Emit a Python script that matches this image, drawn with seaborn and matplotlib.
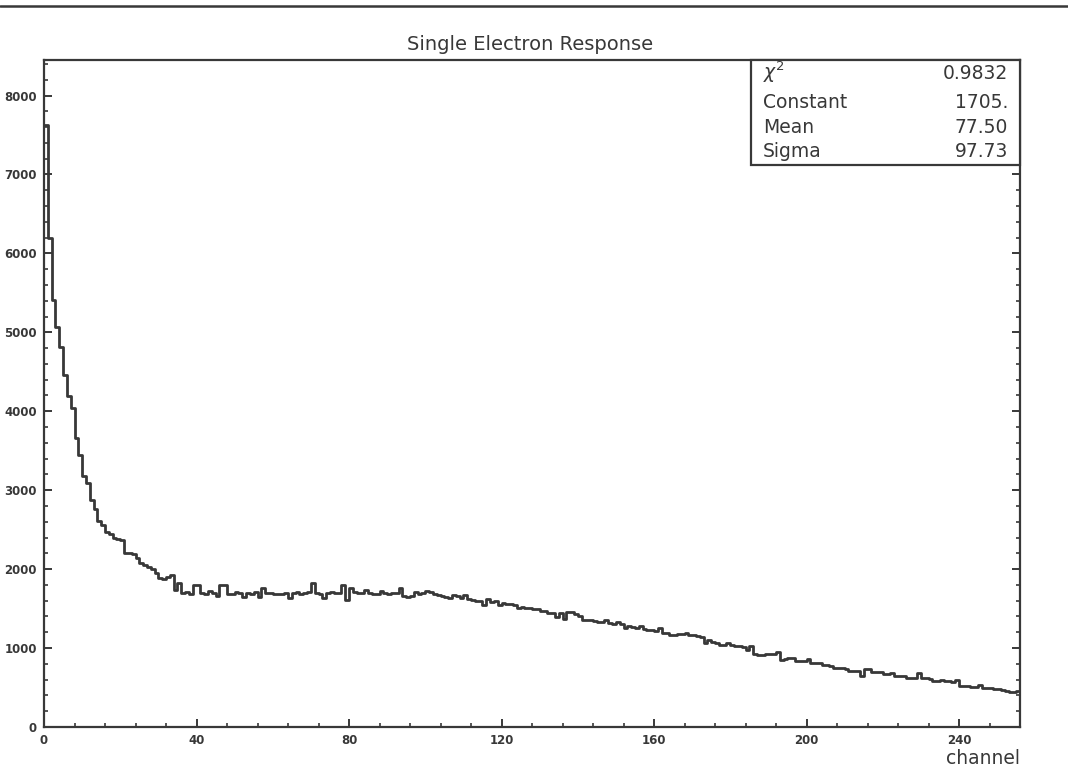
import numpy as np
import pandas as pd
import matplotlib
matplotlib.use("Agg")
import matplotlib.pyplot as plt
from matplotlib.lines import Line2D
from matplotlib.patches import Rectangle
from matplotlib.ticker import MultipleLocator
import seaborn as sns

# ---------------- data ----------------
title = "Single Electron Response"
xlabel = "channel"
stat_names = [r"$\chi^{2}$", "Constant", "Mean", "Sigma"]
stat_values = ["0.9832", "1705.", "77.50", "97.73"]

counts = [
    7630, 6200, 5410, 5070, 4820, 4460, 4190, 4040, 3660, 3440,
    3180, 3090, 2870, 2760, 2610, 2560, 2470, 2440, 2400, 2380,
    2370, 2200, 2210, 2190, 2140, 2080, 2050, 2030, 2000, 1950,
    1890, 1880, 1900, 1930, 1740, 1830, 1700, 1710, 1690, 1800,
    1800, 1700, 1690, 1720, 1700, 1660, 1800, 1800, 1690, 1680,
    1710, 1700, 1650, 1700, 1690, 1710, 1650, 1760, 1700, 1700,
    1690, 1680, 1690, 1700, 1640, 1700, 1710, 1690, 1700, 1710,
    1830, 1700, 1690, 1640, 1700, 1710, 1700, 1700, 1800, 1610,
    1760, 1710, 1700, 1700, 1740, 1700, 1690, 1680, 1720, 1700,
    1690, 1700, 1700, 1760, 1660, 1650, 1660, 1710, 1690, 1700,
    1720, 1710, 1680, 1670, 1660, 1650, 1630, 1670, 1660, 1640,
    1670, 1620, 1610, 1600, 1600, 1550, 1620, 1580, 1590, 1550,
    1570, 1560, 1560, 1550, 1510, 1520, 1510, 1510, 1500, 1500,
    1470, 1470, 1450, 1450, 1395, 1450, 1370, 1460, 1460, 1430,
    1400, 1355, 1360, 1360, 1340, 1330, 1330, 1360, 1320, 1310,
    1330, 1300, 1255, 1280, 1270, 1260, 1280, 1240, 1230, 1225,
    1220, 1255, 1190, 1190, 1170, 1170, 1180, 1180, 1190, 1160,
    1160, 1150, 1140, 1065, 1100, 1080, 1070, 1040, 1040, 1070,
    1040, 1030, 1020, 1010, 980, 1030, 930, 910, 910, 930,
    930, 920, 950, 850, 860, 870, 880, 840, 830, 830,
    860, 810, 810, 810, 780, 780, 770, 745, 745, 745,
    740, 710, 710, 705, 645, 730, 730, 700, 700, 700,
    675, 675, 690, 640, 640, 650, 615, 620, 615, 690,
    615, 615, 610, 580, 580, 600, 580, 580, 575, 590,
    520, 520, 515, 510, 510, 530, 495, 490, 490, 480,
    480, 470, 450, 445, 440, 450,
]
n_channels = len(counts)
channels = np.arange(n_channels) + 0.5

x_ticks = [0, 40, 80, 120, 160, 200, 240]
y_ticks = [0, 1000, 2000, 3000, 4000, 5000, 6000, 7000, 8000]

df = pd.DataFrame({"channel": channels, "counts": counts})

# ---------------- style ----------------
sns.set_style("ticks")
plt.rcParams["font.family"] = ["DejaVu Sans"]
ink = "#383838"

W, H = 1068, 773
fig = plt.figure(figsize=(W / 100, H / 100), dpi=100)
fig.patch.set_facecolor("white")

L, R, T, B = 44, 1020, 60, 727
ax = fig.add_axes([L / W, 1 - B / H, (R - L) / W, (B - T) / H])

sns.histplot(data=df, x="channel", weights="counts", bins=n_channels,
             binrange=(0, n_channels), element="step", fill=False,
             color=ink, linewidth=2.0, ax=ax)

ax.set_xlim(0, 256)
ax.set_ylim(0, 8450)
ax.set_xticks(x_ticks)
ax.set_yticks(y_ticks)
ax.xaxis.set_minor_locator(MultipleLocator(8))
ax.yaxis.set_minor_locator(MultipleLocator(200))
ax.tick_params(axis="both", which="both", direction="in", color=ink,
               labelcolor=ink, right=True, top=False)
ax.tick_params(axis="both", which="major", length=6, width=1.4,
               labelsize=8.5, pad=5)
ax.tick_params(axis="both", which="minor", length=3, width=1.2)
for lab in ax.get_xticklabels() + ax.get_yticklabels():
    lab.set_fontweight("bold")
ax.set_xlabel("")
ax.set_ylabel("")
for s in ax.spines.values():
    s.set_color(ink)
    s.set_linewidth(1.6)
    s.set_visible(True)

# x label at lower right
fig.text(R / W, 1 - 758 / H, xlabel, ha="right", va="center",
         fontsize=13.5, color=ink)

# title
fig.text(530 / W, 1 - 44 / H, title, ha="center", va="center",
         fontsize=14, color=ink)

# page separator line at top
fig.add_artist(Line2D([0, 1], [1 - 6 / H, 1 - 6 / H],
                      transform=fig.transFigure, color=ink, linewidth=1.8))

# statistics box
bx0, by0 = 751, 165
fig.add_artist(Rectangle((bx0 / W, 1 - by0 / H), (R - bx0) / W, (by0 - T) / H,
                         transform=fig.transFigure, fill=True,
                         facecolor="white", edgecolor=ink, linewidth=1.6,
                         zorder=5))
baselines = [79, 108, 133, 157]
for name, val, yb in zip(stat_names, stat_values, baselines):
    fig.text(763 / W, 1 - yb / H, name, ha="left", va="baseline",
             fontsize=13.5, color=ink, zorder=6)
    fig.text(1008 / W, 1 - yb / H, val, ha="right", va="baseline",
             fontsize=13.5, color=ink, zorder=6)

fig.savefig("out.png", dpi=100, facecolor="white")
